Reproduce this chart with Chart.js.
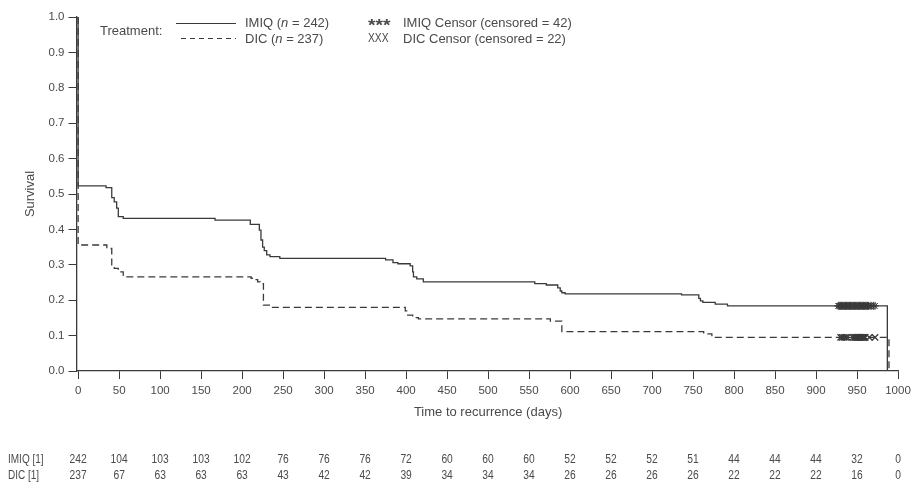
<!DOCTYPE html>
<html>
<head>
<meta charset="utf-8">
<script src="https://cdn.jsdelivr.net/npm/chart.js@4.4.1/dist/chart.umd.min.js"></script>
<style>
  html, body { margin: 0; padding: 0; background: #ffffff; }
  #wrap { width: 912px; height: 483px; position: relative; }
</style>
</head>
<body>
<div id="wrap"><canvas id="c" width="912" height="483"></canvas></div>
<script>
// ---- data ----
const xTicks = [0,50,100,150,200,250,300,350,400,450,500,550,600,650,700,750,800,850,900,950,1000];
const yTicks = [0,0.1,0.2,0.3,0.4,0.5,0.6,0.7,0.8,0.9,1.0];

const imiqTimes = [0,0,34,41,44,47,49,55,167,210,221,223,225,227,230,234,246,375,384,390,405,408,409,413,421,557,571,585,588,590,594,736,757,759,762,777,792,987];
const imiqSurv  = [1,0.523,0.518,0.49,0.478,0.46,0.436,0.431,0.426,0.414,0.398,0.37,0.35,0.34,0.328,0.323,0.318,0.314,0.306,0.303,0.297,0.28,0.266,0.26,0.252,0.247,0.243,0.235,0.226,0.221,0.218,0.215,0.205,0.198,0.194,0.189,0.184,0];

const dicTimes = [0,0,35,41,44,49,55,57,211,215,219,222,226,236,399,402,408,415,576,590,763,773,989];
const dicSurv  = [1,0.356,0.346,0.30,0.29,0.28,0.27,0.266,0.262,0.258,0.252,0.247,0.186,0.18,0.17,0.158,0.151,0.147,0.141,0.111,0.105,0.095,0];

const imiqCensorTimes = [927,928,929,930,931,932,933,934,935,936,937,938,939,940,941,942,943,944,945,946,947,948,949,950,951,952,953,954,955,956,957,958,959,960,961,962,963,964,966,968,970,972];
const imiqCensorSurv = 0.184;
const dicCensorTimes = [930,932,934,936,938,945,947,948,949,950,951,952,953,954,955,956,957,958,959,960,965,972];
const dicCensorSurv = 0.095;

const riskLabels = ["IMIQ [1]", "DIC [1]"];
const imiqAtRisk = [242,104,103,103,102,76,76,76,72,60,60,60,52,52,52,51,44,44,44,32,0];
const dicAtRisk  = [237,67,63,63,63,43,42,42,39,34,34,34,26,26,26,26,22,22,22,16,0];

const seriesNames = ["IMIQ", "DIC"];
const seriesN = [242, 237];
const censoredN = [42, 22];

// ---- build ----
const toXY = (ts, ss) => ts.map((t, i) => ({x: t, y: ss[i]}));
const lineCol = '#3a3a3a';
const textCol = '#4a4a4a';
const FONT = '"Liberation Sans", Arial, sans-serif';

// draw horizontally condensed text (the reference uses a narrow face)
function narrowText(ctx, s, x, y, align, sx) {
  ctx.save();
  ctx.translate(x, y);
  ctx.scale(sx, 1);
  ctx.textAlign = align;
  ctx.fillText(s, 0, 0);
  ctx.restore();
}

const extras = {
  id: 'extras',
  afterDraw(chart) {
    const ctx = chart.ctx;
    const xs = chart.scales.x;
    const ca = chart.chartArea;
    ctx.save();
    ctx.fillStyle = textCol;
    ctx.textBaseline = 'middle';
    // x-axis title
    ctx.font = '13px ' + FONT;
    ctx.textAlign = 'center';
    ctx.fillText('Time to recurrence (days)', (xs.getPixelForValue(0) + xs.getPixelForValue(1000)) / 2, 412);
    // y-axis title
    ctx.save();
    ctx.translate(30, (ca.top + ca.bottom) / 2);
    ctx.rotate(-Math.PI / 2);
    ctx.fillText('Survival', 0, 0);
    ctx.restore();
    // at-risk table
    ctx.font = '12.5px ' + FONT;
    narrowText(ctx, riskLabels[0], 8, 460, 'left', 0.8);
    narrowText(ctx, riskLabels[1], 8, 476, 'left', 0.8);
    xTicks.forEach((t, i) => {
      const px = xs.getPixelForValue(t);
      narrowText(ctx, String(imiqAtRisk[i]), px, 460, 'center', 0.82);
      narrowText(ctx, String(dicAtRisk[i]), px, 476, 'center', 0.82);
    });
    // legend
    ctx.font = '13px ' + FONT;
    ctx.textAlign = 'left';
    ctx.fillText('Treatment:', 100, 31);
    ctx.strokeStyle = lineCol;
    ctx.lineWidth = 1.2;
    ctx.beginPath(); ctx.moveTo(176, 23.5); ctx.lineTo(236, 23.5); ctx.stroke();
    ctx.setLineDash([5, 4]);
    ctx.beginPath(); ctx.moveTo(181, 38.5); ctx.lineTo(236, 38.5); ctx.stroke();
    ctx.setLineDash([]);
    const drawN = (name, n, x, y) => {
      let s1 = name + ' (';
      ctx.font = '13px ' + FONT;
      ctx.fillText(s1, x, y);
      let w = ctx.measureText(s1).width;
      ctx.font = 'italic 13px ' + FONT;
      ctx.fillText('n', x + w, y);
      w += ctx.measureText('n').width;
      ctx.font = '13px ' + FONT;
      ctx.fillText(' = ' + n + ')', x + w, y);
    };
    drawN(seriesNames[0], seriesN[0], 245, 23);
    drawN(seriesNames[1], seriesN[1], 245, 39);
    ctx.font = 'bold 16px ' + FONT;
    narrowText(ctx, '***', 368, 27, 'left', 1.2);
    ctx.font = '12.5px ' + FONT;
    narrowText(ctx, 'XXX', 368, 39, 'left', 0.82);
    ctx.font = '13px ' + FONT;
    ctx.textAlign = 'left';
    ctx.fillText(seriesNames[0] + ' Censor (censored = ' + censoredN[0] + ')', 403, 23);
    ctx.fillText(seriesNames[1] + ' Censor (censored = ' + censoredN[1] + ')', 403, 39);
    ctx.restore();
  }
};

new Chart(document.getElementById('c'), {
  type: 'line',
  data: {
    datasets: [
      {
        label: 'IMIQ',
        data: toXY(imiqTimes, imiqSurv),
        stepped: 'before',
        borderColor: lineCol,
        borderWidth: 1.3,
        pointRadius: 0,
        fill: false
      },
      {
        label: 'DIC',
        data: toXY(dicTimes, dicSurv),
        stepped: 'before',
        borderColor: lineCol,
        borderWidth: 1.3,
        borderDash: [7, 4],
        pointRadius: 0,
        fill: false
      },
      {
        label: 'IMIQ Censor',
        type: 'scatter',
        data: imiqCensorTimes.map(t => ({x: t, y: imiqCensorSurv})),
        pointStyle: 'star',
        pointRadius: 4,
        borderColor: lineCol,
        borderWidth: 1,
        showLine: false
      },
      {
        label: 'DIC Censor',
        type: 'scatter',
        data: dicCensorTimes.map(t => ({x: t, y: dicCensorSurv})),
        pointStyle: 'crossRot',
        pointRadius: 4.5,
        borderColor: lineCol,
        borderWidth: 1.3,
        showLine: false
      }
    ]
  },
  options: {
    responsive: false,
    animation: false,
    events: [],
    layout: { padding: { top: 17, right: 14, left: 0, bottom: 0 } },
    plugins: { legend: { display: false }, tooltip: { enabled: false } },
    scales: {
      x: {
        type: 'linear',
        min: -2,
        max: 1000,
        afterBuildTicks(scale) { scale.ticks = xTicks.map(v => ({value: v})); },
        afterFit(scale) { scale.height = 112; scale.paddingLeft = 0; scale.paddingRight = 0; },
        grid: { drawOnChartArea: false, drawTicks: true, tickLength: 8, color: lineCol, lineWidth: 1 },
        border: { display: true, color: lineCol, width: 1.3 },
        ticks: { color: textCol, font: { family: FONT, size: 11.5 }, padding: 5, maxRotation: 0, autoSkip: false, callback: v => String(v) }
      },
      y: {
        type: 'linear',
        min: 0,
        max: 1,
        afterBuildTicks(scale) { scale.ticks = yTicks.map(v => ({value: v})); },
        afterFit(scale) { scale.width = 76.5; scale.paddingTop = 0; scale.paddingBottom = 0; },
        grid: { drawOnChartArea: false, drawTicks: true, tickLength: 8, color: lineCol, lineWidth: 1 },
        border: { display: true, color: lineCol, width: 1.3 },
        ticks: { color: textCol, font: { family: FONT, size: 11.5 }, padding: 4, callback: v => v.toFixed(1) }
      }
    }
  },
  plugins: [extras]
});
</script>
</body>
</html>
